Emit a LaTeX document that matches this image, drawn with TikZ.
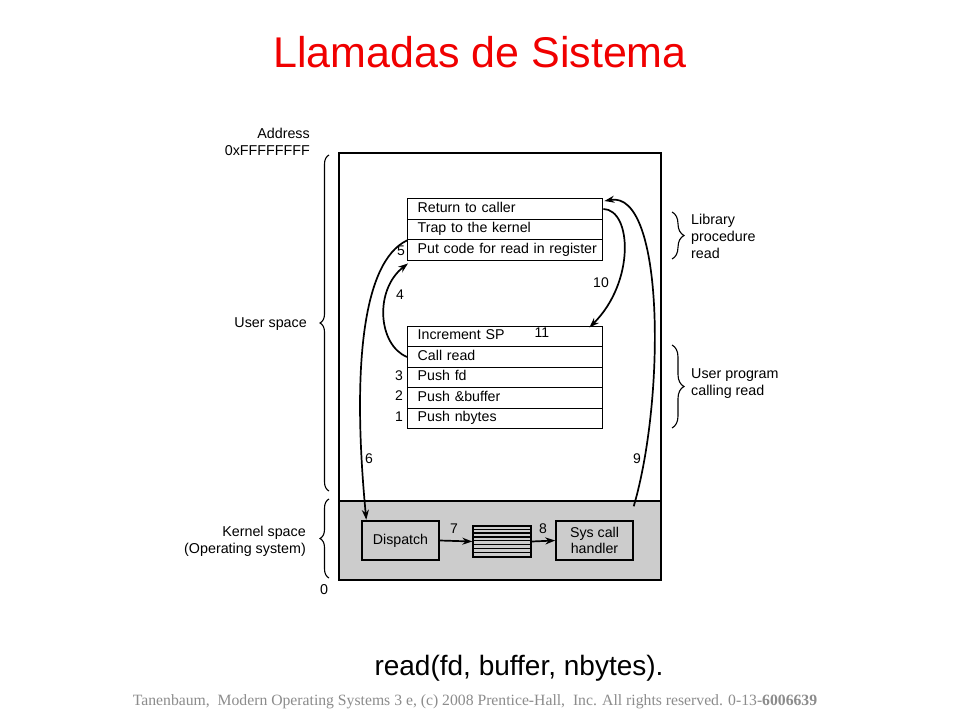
\documentclass[tikz,border=0pt]{standalone}
\usepackage{fontspec}
\setmainfont{Liberation Sans}
\newfontfamily\serifft{Liberation Serif}
\usetikzlibrary{arrows.meta,decorations.pathreplacing,calc}
\definecolor{kgray}{RGB}{204,204,204}
\definecolor{titlered}{RGB}{240,0,0}
\definecolor{footgray}{RGB}{140,140,140}
\begin{document}
\begin{tikzpicture}[x=1pt,y=-1pt,
  row/.style={draw,line width=1.4pt,minimum width=195pt,minimum height=20.5pt,
    text width=175pt,inner xsep=10pt,inner ysep=2pt,align=left,
    font=\fontsize{14.2}{15}\selectfont,text height=10pt,text depth=3pt,anchor=north west},
  kbox/.style={draw,line width=1.4pt,minimum width=77pt,minimum height=39pt,inner sep=0pt,
    align=center,font=\fontsize{14.2}{16.5}\selectfont},
  num/.style={font=\fontsize{14}{15}\selectfont,inner sep=0pt},
  lbl/.style={font=\fontsize{14.3}{17}\selectfont,inner sep=0pt},
  conn/.style={line width=1.7pt,-{Stealth[length=10pt,width=7pt]}},
  bracel/.style={line width=1.1pt,decorate,decoration={brace,amplitude=9pt}},
  bracer/.style={line width=1.1pt,decorate,decoration={brace,amplitude=12pt}}]
\useasboundingbox (0,0) rectangle (960,720);
\fill[white] (0,0) rectangle (960,720);
% title
\node[font=\fontsize{43}{48}\selectfont,text=titlered] (title) at (480,52) {Llamadas de Sistema};
% outer memory box
\fill[kgray] (339,501) rectangle (661,580);
\draw[line width=1.6pt] (339,153) rectangle (661,580);
\draw[line width=1.6pt] (339,501) -- (661,501);
% library rows
\node[row] (rc) at (407,198) {\mbox{Return to caller}};
\node[row] (tk) at (407,218.5) {\mbox{Trap to the kernel}};
\node[row] (pc) at (407,239) {\mbox{Put code for read in register}};
% user program rows
\node[row] (is) at (407,325.5) {\mbox{Increment SP}};
\node[row] (cr) at (407,346) {\mbox{Call read}};
\node[row] (pf) at (407,366.5) {\mbox{Push fd}};
\node[row] (pb) at (407,387) {\mbox{Push \&buffer}};
\node[row] (pn) at (407,407.5) {\mbox{Push nbytes}};
% kernel boxes
\node[kbox] (dp) at (400.5,540.5) {Dispatch};
\node[draw,line width=1.4pt,minimum width=58pt,minimum height=31pt,inner sep=0pt] (tb) at (502,541.5) {};
\foreach \i in {1,...,7}
  \draw[line width=1.3pt] ($(tb.north west)+(0,\i*3.875)$) -- ($(tb.north east)+(0,\i*3.875)$);
\node[kbox] (sc) at (594.5,540.5) {Sys call\\handler};
% step numbers
\node[num] (n1) at (399,416.5) {1};
\node[num] (n2) at (399,396) {2};
\node[num] (n3) at (399,376) {3};
\node[num] (n4) at (400,295) {4};
\node[num] (n5) at (401,251) {5};
\node[num] (n6) at (369,459) {6};
\node[num] (n7) at (454,529) {7};
\node[num] (n8) at (543,529) {8};
\node[num] (n9) at (637,459) {9};
\node[num] (n10) at (601,283) {10};
\node[num] (n11) at (542,333) {11};
% connectors
\coordinate (s9) at ($(sc.north east)+(0,-14)$);
\draw[conn] (cr.west) .. controls (378,345) and (374,290) .. ($(pc.south west)+(1,2.5)$);
\draw[conn] (tk.south west) .. controls (362,262) and (352,370) .. ($(dp.north west)+(5,-0.5)$);
\draw[conn] (dp.east) -- (tb.west);
\draw[conn] (tb.east) -- (sc.west);
\draw[conn] (s9) .. controls (665,400) and (665,190) .. ($(rc.north east)+(1,3)$);
\draw[conn] (rc.east) .. controls (632,210) and (635,282) .. ($(is.north east)+(-14,2)$);
% left braces and labels
\draw[bracel] (329,491) -- (329,155);
\draw[bracel] (329,578) -- (329,499);
\node[lbl,anchor=east,align=right] (addr) at (310,142) {Address\\0xFFFFFFFF};
\node[lbl,anchor=east] (us) at (307,324) {User space};
\node[lbl,anchor=east,align=right] (ks) at (306,541) {Kernel space\\(Operating system)};
\node[lbl] (zero) at (324,590) {0};
% right braces and labels
\draw[bracer] (672,212) -- (672,259);
\draw[bracer] (672,345) -- (672,428);
\node[lbl,anchor=west,align=left] (lib) at (691,236) {Library\\procedure\\read};
\node[lbl,anchor=west,align=left] (upr) at (691,384) {User program\\calling read};
% bottom texts
\node[font=\fontsize{28}{32}\selectfont] (call) at (519,668) {read(fd, buffer, nbytes).};
\node[text=footgray,font=\serifft\fontsize{15.7}{17}\selectfont] (foot) at (475,702)
  {Tanenbaum,\ \ Modern Operating Systems 3 e, (c) 2008 Prentice-Hall,\ \ Inc. All rights reserved. 0-13-\textbf{6006639}};
\end{tikzpicture}
\end{document}
